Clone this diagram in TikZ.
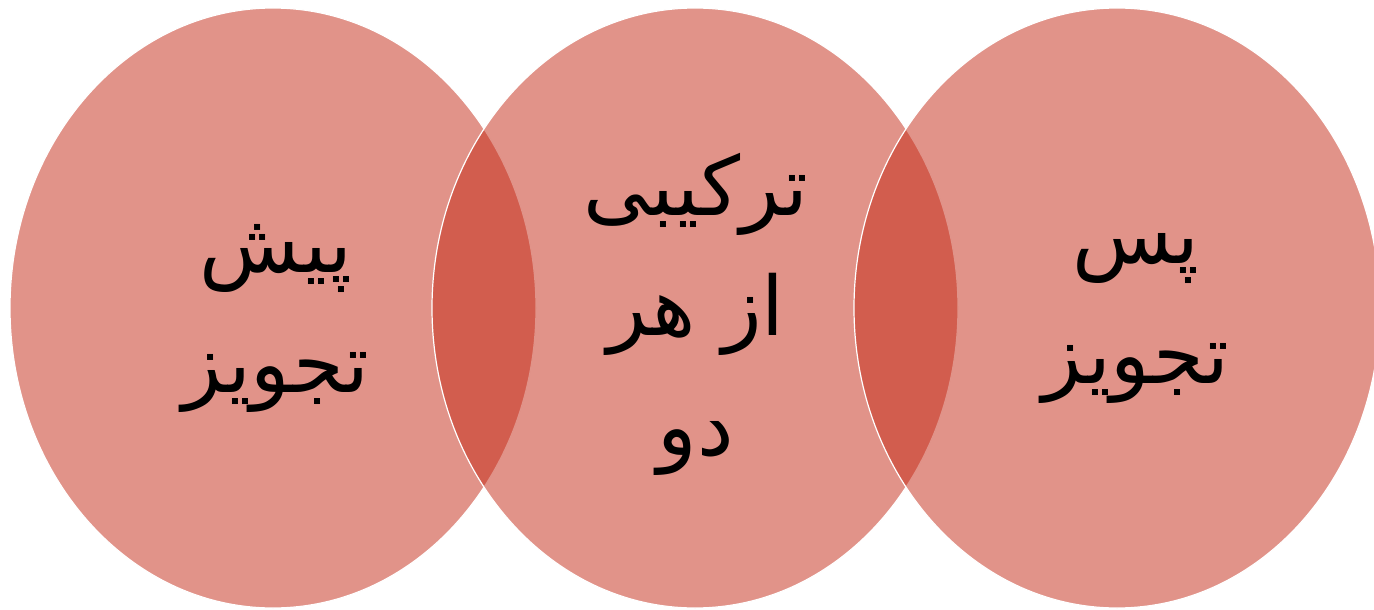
\documentclass[tikz,border=0pt]{standalone}
\usepackage{fontspec}
\newfontfamily\arabicfont[Script=Arabic]{DejaVu Sans}
\TeXXeTstate=1
\usetikzlibrary{shapes.geometric}
\definecolor{blobbase}{RGB}{195,40,20}
\newcommand{\lblfont}{\arabicfont\fontsize{82}{120}\selectfont\setlength{\lineskiplimit}{-200pt}}
\tikzset{
  blob/.style={ellipse, minimum width=526pt, minimum height=600pt, inner sep=0pt,
    fill=blobbase, fill opacity=0.5, draw=white, draw opacity=1, line width=1.2pt},
  lbl/.style={align=center, text=black, inner sep=0pt, font=\lblfont}
}
\begin{document}
\begin{tikzpicture}[x=1pt,y=-1pt]
\useasboundingbox (0,0) rectangle (1374,610);
\node[blob] (left) at (273,308) {};
\node[blob] (mid) at (695,308) {};
\node[blob] (right) at (1117,308) {};
\node[lbl] (ltext) at (276,318) {\beginR پیش\endR\\\beginR تجویز\endR};
\node[lbl] (mtext) at (696,314) {\beginR ترکیبی\endR\\\beginR از هر\endR\\\beginR دو\endR};
\node[lbl] (rtext) at (1136,318) {\beginR پس\endR\\\beginR تجویز\endR};
\end{tikzpicture}
\end{document}
